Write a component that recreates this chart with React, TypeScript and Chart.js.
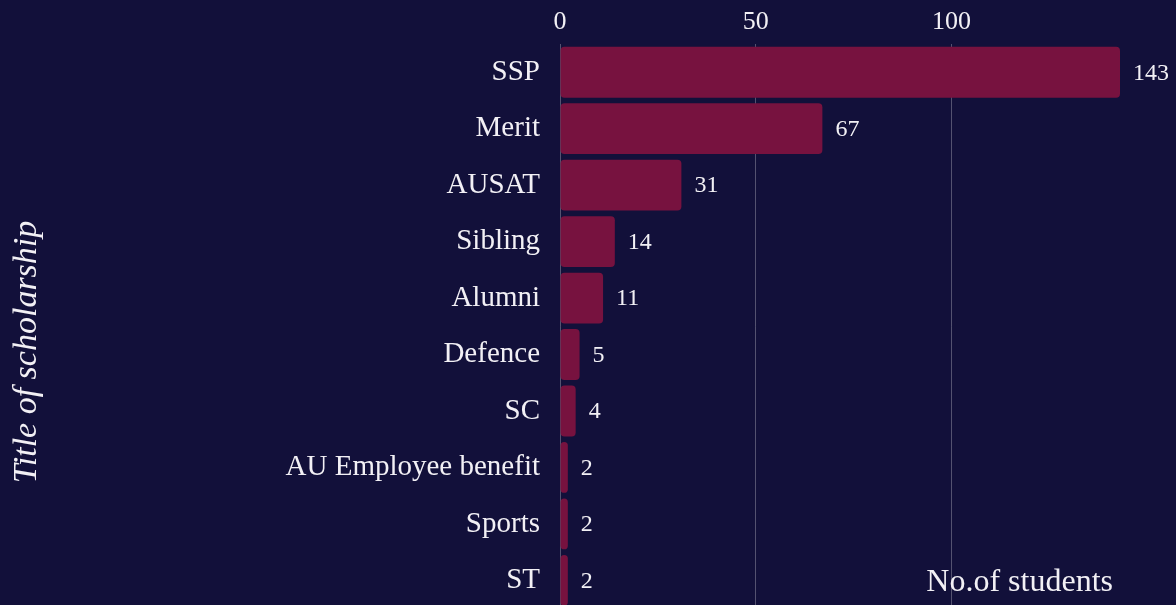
import React, { useEffect, useRef } from "react";
import { Chart, registerables } from "chart.js";

Chart.register(...registerables);

const categories = ["SSP", "Merit", "AUSAT", "Sibling", "Alumni", "Defence", "SC", "AU Employee benefit", "Sports", "ST"];
const students = [143, 67, 31, 14, 11, 5, 4, 2, 2, 2];
const tickValues = [0, 50, 100];

const BG = "#12103a";
const BAR = "#77123f";
const TEXT = "#f2f0f5";
const FONT = "'Liberation Serif', 'DejaVu Serif', serif";

const bgPlugin = {
  id: "bg",
  beforeDraw(chart: any) {
    const { ctx, width, height } = chart;
    ctx.save();
    ctx.fillStyle = BG;
    ctx.fillRect(0, 0, width, height);
    ctx.restore();
  },
};

const valueLabels = {
  id: "valueLabels",
  afterDatasetsDraw(chart: any) {
    const { ctx } = chart;
    const meta = chart.getDatasetMeta(0);
    ctx.save();
    ctx.fillStyle = TEXT;
    ctx.font = `24px ${FONT}`;
    ctx.textAlign = "left";
    ctx.textBaseline = "middle";
    meta.data.forEach((bar: any, i: number) => {
      ctx.fillText(String(students[i]), bar.x + 13, bar.y + 1);
    });
    ctx.restore();
  },
};

const titles = {
  id: "titles",
  afterDraw(chart: any) {
    const { ctx, chartArea } = chart;
    ctx.save();
    ctx.fillStyle = TEXT;
    ctx.font = `32px ${FONT}`;
    ctx.textAlign = "right";
    ctx.textBaseline = "middle";
    ctx.fillText("No.of students", chartArea.right - 7, chartArea.bottom - 26);
    ctx.translate(19, 344);
    ctx.rotate(-Math.PI / 2);
    ctx.textAlign = "center";
    ctx.font = `italic 34px ${FONT}`;
    ctx.fillText("Title of scholarship", 0, 0);
    ctx.restore();
  },
};

export default function App() {
  const ref = useRef<HTMLCanvasElement | null>(null);
  useEffect(() => {
    document.body.style.background = BG;
    const chart = new Chart(ref.current as HTMLCanvasElement, {
      type: "bar",
      data: {
        labels: categories,
        datasets: [
          {
            data: students,
            backgroundColor: BAR,
            borderRadius: 4,
            borderSkipped: false,
            barPercentage: 0.9,
            categoryPercentage: 1,
          },
        ],
      },
      options: {
        indexAxis: "y",
        animation: false,
        responsive: true,
        maintainAspectRatio: false,
        layout: { padding: { right: 48, top: 0, bottom: 0, left: 0 } },
        plugins: { legend: { display: false }, tooltip: { enabled: false } },
        scales: {
          x: {
            position: "top",
            min: 0,
            max: Math.max(...students),
            afterBuildTicks(scale: any) {
              scale.ticks = tickValues.map((v) => ({ value: v }));
            },
            afterFit(scale: any) {
              scale.height = 36;
            },
            ticks: { color: TEXT, font: { family: FONT, size: 26 }, padding: 6 },
            grid: { color: "rgba(255,255,255,0.28)", drawTicks: false },
            border: { display: false },
          },
          y: {
            afterFit(scale: any) {
              scale.width = 552;
            },
            ticks: { color: TEXT, font: { family: FONT, size: 29 }, padding: 12 },
            grid: { display: false },
            border: { display: false },
          },
        },
      },
      plugins: [bgPlugin, valueLabels, titles],
    } as any);
    return () => chart.destroy();
  }, []);
  return (
    <div style={{ width: 1160, height: 630, position: "relative" }}>
      <canvas ref={ref} />
    </div>
  );
}
